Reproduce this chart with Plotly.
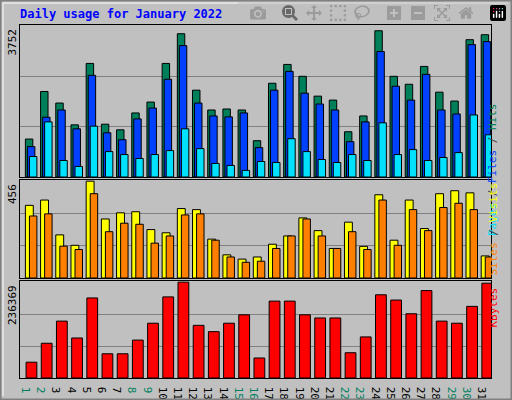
import plotly.graph_objects as go
from plotly.subplots import make_subplots

days = list(range(1, 32))
weekend = [1, 2, 8, 9, 15, 16, 22, 23, 29, 30]

hits = [948, 2136, 1847, 1303, 2837, 1319, 1179, 1600, 1872, 2837, 3579, 2169, 1674, 1699, 1674, 907,
        2342, 2812, 2515, 2020, 1921, 1130, 1525, 3653, 2515, 2317, 2762, 2119, 1897, 3430, 3554]
files = [759, 1493, 1674, 1204, 2540, 1105, 932, 1451, 1723, 2441, 3282, 1847, 1525, 1501, 1600, 734,
         2169, 2639, 2095, 1823, 1674, 882, 1377, 3134, 2268, 1921, 2564, 1674, 1575, 3307, 3381]
pages = [511, 1377, 412, 264, 1270, 635, 561, 462, 561, 660, 1204, 709, 338, 289, 165, 388,
         363, 957, 635, 437, 363, 561, 412, 1353, 561, 684, 412, 487, 610, 1550, 1055]
sites = [342, 367, 203, 154, 456, 278, 307, 312, 228, 213, 327, 322, 183, 109, 89, 99,
         159, 198, 283, 223, 139, 263, 149, 392, 178, 367, 233, 397, 411, 401, 104]
visits = [292, 302, 150, 134, 397, 218, 258, 253, 164, 198, 297, 302, 178, 99, 74, 79,
          139, 198, 278, 198, 139, 218, 134, 367, 154, 322, 223, 332, 352, 322, 99]
kbytes = [38960, 85700, 140260, 98700, 197400, 59740, 59740, 93500, 135070, 200000, 236369, 129870,
          114290, 135070, 155850, 49350, 189620, 189620, 155850, 148060, 148060, 62340, 101300,
          205200, 192200, 158440, 215600, 140260, 135070, 176630, 233770]

max_hits = 3752
max_sites = 456
max_kb = 236369

fig = make_subplots(rows=3, cols=1, shared_xaxes=False, vertical_spacing=0.0)

def add(row, y, color, offset, width):
    fig.add_trace(go.Bar(x=days, y=y, marker=dict(color=color, line=dict(color="black", width=1)),
                         offset=offset, width=width, showlegend=False), row=row, col=1)

add(1, hits, "#00805A", -0.145, 0.49)
add(1, files, "#0040FF", -0.012, 0.49)
add(1, pages, "#00E0FF", 0.122, 0.49)
add(2, sites, "#FFFF00", -0.145, 0.52)
add(2, visits, "#FF8000", 0.122, 0.49)
add(3, kbytes, "#FF0000", -0.1, 0.71)

W, H = 512, 400
def py(p):
    return 1 - p / H

doms = [(25, 177), (180, 278), (281, 378)]
maxes = [max_hits, max_sites, max_kb]
for i, ((t, b), m) in enumerate(zip(doms, maxes), start=1):
    yk = "yaxis" if i == 1 else "yaxis%d" % i
    xk = "xaxis" if i == 1 else "xaxis%d" % i
    fig.layout[yk].update(domain=[py(b), py(t)], range=[0, m * 1.012], tickvals=[m / 3, 2 * m / 3],
                          showticklabels=False, gridcolor="#808080", gridwidth=1, zeroline=False,
                          showline=True, linecolor="black", mirror=True, ticks="")
    ticktext = ['<span style="color:%s">%d</span>' % ("#008060" if d in weekend else "black", d) for d in days]
    fig.layout[xk].update(domain=[20 / W, 491 / W], range=[0.5, 31.5], showline=True, linecolor="black",
                          mirror=True, showgrid=False, tickvals=days, tickfont=dict(size=11),
                          ticktext=ticktext if i == 3 else None, showticklabels=(i == 3), ticks="")
    fig.add_annotation(xref="paper", yref="paper", x=12 / W, y=py(t + 2), text=str(m), textangle=-90,
                       showarrow=False, xanchor="center", yanchor="top",
                       font=dict(size=11, color="black", family="DejaVu Sans Mono"))

right = [
    ('<span style="color:#00E0FF">Pages</span> / <span style="color:#0040FF">Files</span>'
     ' / <span style="color:#00805A">Hits</span>', 101),
    ('<span style="color:#FF8000">Sites</span> / <span style="color:#FFFF00">Visits</span>', 229),
    ('<span style="color:#FF0000">KBytes</span>', 330),
]
for txt, yc in right:
    fig.add_annotation(xref="paper", yref="paper", x=501 / W, y=py(yc), text=txt, textangle=-90,
                       showarrow=False, font=dict(size=11, color="#404040", family="DejaVu Sans Mono"))

fig.add_annotation(xref="paper", yref="paper", x=18 / W, y=py(14), text="<b>Daily usage for January 2022</b>",
                   showarrow=False, xanchor="left", yanchor="middle",
                   font=dict(size=12, color="#0000FF", family="DejaVu Sans Mono"))

# frame
fig.add_shape(type="rect", xref="paper", yref="paper", x0=0, y0=0, x1=1, y1=1,
              line=dict(color="#808080", width=3))
fig.add_shape(type="line", xref="paper", yref="paper", x0=3 / W, y0=py(3), x1=3 / W, y1=py(396),
              line=dict(color="white", width=1))
fig.add_shape(type="line", xref="paper", yref="paper", x0=3 / W, y0=py(3), x1=508 / W, y1=py(3),
              line=dict(color="white", width=1))

fig.update_layout(width=W, height=H, margin=dict(l=0, r=0, t=0, b=0, autoexpand=False), barmode="overlay",
                  paper_bgcolor="#C0C0C0", plot_bgcolor="#C0C0C0",
                  font=dict(family="DejaVu Sans Mono", size=12))

fig.write_html("out.html",
               post_script="document.body.style.margin='0';document.body.style.overflow='hidden';")
